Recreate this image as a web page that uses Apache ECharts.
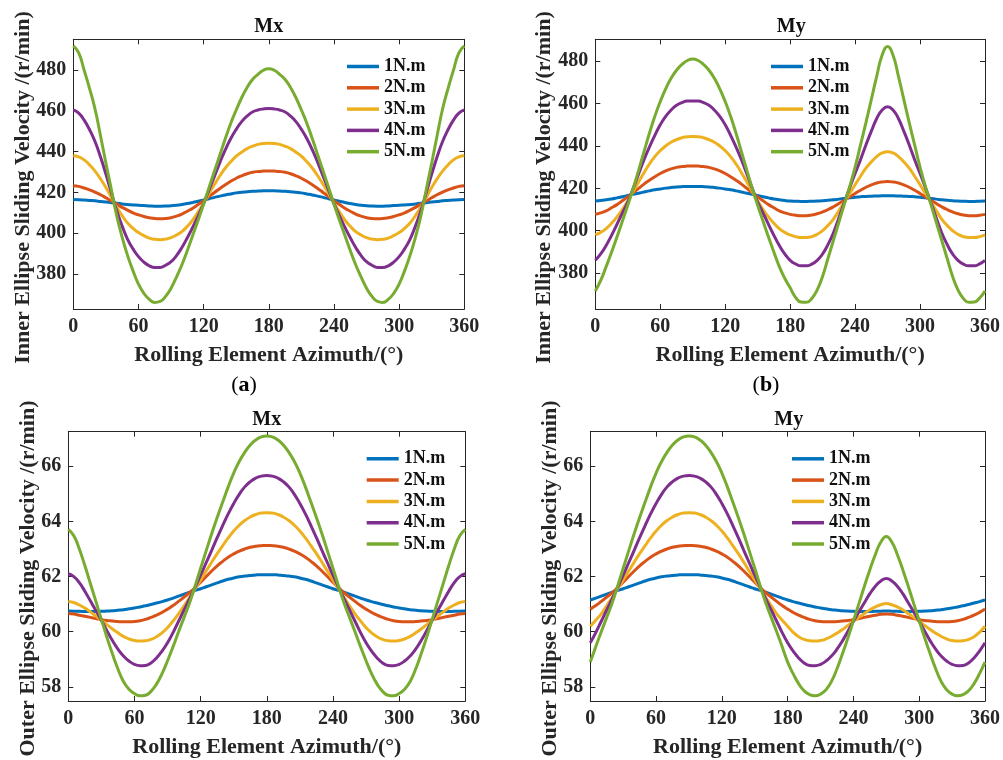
<!DOCTYPE html>
<html><head><meta charset="utf-8">
<script src="https://cdn.jsdelivr.net/npm/echarts@6/dist/echarts.min.js"></script>
<style>html,body{margin:0;padding:0;background:#fff}#c{width:1003px;height:760px}</style>
</head><body><div id="c"></div>
<script>
// ---------- data ----------
const angles = [0,5,10,15,20,25,30,35,40,45,50,55,60,65,70,75,80,85,90,95,100,105,110,115,120,125,130,135,140,145,150,155,160,165,170,175,180,185,190,195,200,205,210,215,220,225,230,235,240,245,250,255,260,265,270,275,280,285,290,295,300,305,310,315,320,325,330,335,340,345,350,355,360];
const seriesNames = ['1N.m','2N.m','3N.m','4N.m','5N.m'];
const xTicks = [0,60,120,180,240,300,360];
const innerTicks = [380,400,420,440,460,480];
const outerTicks = [58,60,62,64,66];
const panelTitles = ['Mx','My','Mx','My'];
const captions = ['a','b'];

// (a) inner ellipse, Mx
const innerMx1 = [416.5,416.45,416.3,416.1,415.9,415.6,415.3,415.0,414.7,414.4,414.1,413.9,413.7,413.55,413.4,413.3,413.3,413.35,413.5,413.75,414.1,414.55,415.1,415.7,416.3,416.95,417.6,418.2,418.8,419.3,419.8,420.1,420.4,420.6,420.7,420.8,420.8,
  420.8,420.7,420.6,420.4,420.1,419.8,419.3,418.8,418.2,417.6,416.95,416.3,415.7,415.1,414.55,414.1,413.75,413.5,413.35,413.3,413.3,413.4,413.55,413.7,413.9,414.1,414.4,414.7,415.0,415.3,415.6,415.9,416.1,416.3,416.45,416.5];
const innerMx2 = [423.3,423.0,422.2,421.3,420.2,418.9,417.4,415.8,414.3,412.7,411.3,410.0,409.0,408.2,407.6,407.2,407.1,407.2,407.6,408.4,409.4,410.8,412.3,414.1,416.0,418.0,420.0,422.0,423.8,425.5,427.0,428.2,429.2,429.9,430.3,430.5,430.6,
  430.5,430.3,429.9,429.2,428.2,427.0,425.5,423.8,422.0,420.0,418.0,416.0,414.1,412.3,410.8,409.4,408.4,407.6,407.2,407.1,407.2,407.6,408.2,409.0,410.0,411.3,412.7,414.3,415.8,417.4,418.9,420.2,421.3,422.2,423.0,423.3];
const innerMx3 = [438.0,437.5,436.0,433.5,430.5,426.7,422.5,417.6,412.8,408.6,405.0,402.4,400.3,398.8,397.6,397.0,396.8,397.1,397.8,399.1,400.8,403.4,406.5,410.5,414.7,419.5,424.0,428.2,432.0,435.1,437.8,439.8,441.5,442.7,443.6,444.1,444.2,
  444.1,443.6,442.7,441.5,439.8,437.8,435.1,432.0,428.2,424.0,419.5,414.7,410.5,406.5,403.4,400.8,399.1,397.8,397.1,396.8,397.0,397.6,398.8,400.3,402.4,405.0,408.6,412.8,417.6,422.5,426.7,430.5,433.5,436.0,437.5,438.0];
const innerMx4 = [460.5,459.0,455.5,450.8,445.0,437.5,429.0,420.0,411.0,403.5,397.0,392.3,388.5,385.8,384.0,383.2,383.2,384.3,386.0,389.0,393.0,397.8,403.0,408.5,414.5,421.3,428.0,434.8,441.0,446.5,451.0,454.8,457.5,459.5,460.5,461.0,461.2,
  461.0,460.5,459.5,457.5,454.8,451.0,446.5,441.0,434.8,428.0,421.3,414.5,408.5,403.0,397.8,393.0,389.0,386.0,384.3,383.2,383.2,384.0,385.8,388.5,392.3,397.0,403.5,411.0,420.0,429.0,437.5,445.0,450.8,455.5,459.0,460.5];
const innerMx5 = [492.0,488.5,480.0,471.0,461.0,448.0,434.5,421.5,408.5,398.0,389.0,381.5,375.0,370.5,367.5,366.0,366.5,369.0,373.0,378.5,384.5,391.5,399.0,406.5,414.3,422.5,430.5,438.5,446.5,454.0,460.5,466.5,471.5,475.5,478.0,480.0,480.7,
  480.0,478.0,475.5,471.5,466.5,460.5,454.0,446.5,438.5,430.5,422.5,414.3,406.5,399.0,391.5,384.5,378.5,373.0,369.0,366.5,366.0,367.5,370.5,375.0,381.5,389.0,398.0,408.5,421.5,434.5,448.0,461.0,471.0,480.0,488.5,492.0];

// (b) inner ellipse, My
const innerMy1 = [414.0,414.25,414.6,415.0,415.5,416.05,416.6,417.15,417.7,418.25,418.8,419.3,419.7,420.1,420.4,420.65,420.8,420.88,420.9,420.88,420.8,420.65,420.4,420.1,419.7,419.3,418.8,418.25,417.7,417.15,416.6,416.05,415.5,415.0,414.6,414.25,414.0,
  413.9,413.8,413.8,413.9,414.0,414.15,414.35,414.6,414.9,415.2,415.5,415.8,416.0,416.2,416.3,416.4,416.48,416.5,416.48,416.4,416.3,416.2,416.0,415.8,415.5,415.2,414.9,414.6,414.35,414.15,414.0,413.9,413.8,413.8,413.9,414.0];
const innerMy2 = [407.7,408.4,409.4,410.8,412.3,414.1,416.0,418.0,420.0,422.0,423.8,425.5,427.0,428.2,429.2,429.9,430.3,430.5,430.6,430.5,430.3,429.9,429.2,428.2,427.0,425.5,423.8,422.0,420.0,418.0,416.0,414.1,412.3,410.8,409.4,408.4,407.7,
  407.3,407.1,407.1,407.4,408.0,408.9,410.0,411.3,412.8,414.4,416.0,417.6,419.1,420.5,421.6,422.5,423.0,423.2,423.0,422.5,421.6,420.5,419.1,417.6,416.0,414.4,412.8,411.3,410.0,408.9,408.0,407.4,407.1,407.1,407.3,407.7];
const innerMy3 = [398.0,399.2,401.0,403.5,406.5,410.0,414.0,418.5,423.0,427.4,431.5,435.0,437.8,440.0,441.8,443.0,443.9,444.4,444.5,444.4,443.9,443.0,441.8,440.0,437.8,435.0,431.5,427.4,423.0,418.5,414.0,410.0,406.5,403.5,401.0,399.2,398.0,
  397.2,396.8,396.8,397.2,398.3,400.0,402.5,405.5,409.4,413.5,417.6,421.7,425.7,429.5,432.5,435.0,436.7,437.3,436.7,435.0,432.5,429.5,425.7,421.7,417.6,413.5,409.4,405.5,402.5,400.0,398.3,397.2,396.8,396.8,397.2,398.0];
const innerMy4 = [386.0,389.0,393.0,397.8,403.0,408.3,413.5,420.0,426.8,433.5,439.5,445.0,450.0,454.0,457.0,459.2,460.5,461.2,461.3,461.2,460.5,459.2,457.0,454.0,450.0,445.0,439.5,433.5,426.8,420.0,413.5,408.3,403.0,397.8,393.0,389.0,386.0,
  384.3,383.4,383.4,384.2,386.0,389.0,393.5,399.0,406.0,413.3,420.3,427.0,433.5,440.5,447.0,453.0,457.0,458.5,457.0,453.0,447.0,440.5,433.5,427.0,420.3,413.3,406.0,399.0,393.5,389.0,386.0,384.2,383.4,383.4,384.3,386.0];
const innerMy5 = [371.5,376.5,383.0,389.8,397.0,404.5,412.0,420.0,428.5,437.3,446.0,454.0,461.0,467.0,472.0,475.8,478.5,480.4,481.1,480.4,478.5,475.8,472.0,467.0,461.0,454.0,446.0,437.3,428.5,420.0,412.0,404.5,397.0,389.8,383.0,377.5,373.0,
  368.5,366.3,366.2,368.0,372.0,378.5,387.0,395.5,404.0,412.5,420.8,430.0,440.5,451.0,462.0,473.0,483.0,487.0,483.0,473.0,462.0,451.0,440.5,430.0,420.8,412.5,404.0,395.5,387.0,378.5,372.0,368.0,366.2,366.3,368.2,371.5];

// (c) outer ellipse, Mx
const outerMx1 = [60.75,60.745,60.74,60.735,60.73,60.735,60.74,60.75,60.76,60.78,60.80,60.83,60.86,60.9,60.94,60.99,61.04,61.09,61.15,61.22,61.29,61.36,61.43,61.5,61.56,61.63,61.70,61.77,61.84,61.9,61.95,61.99,62.02,62.04,62.06,62.07,62.07,
  62.07,62.06,62.04,62.02,61.99,61.95,61.9,61.84,61.77,61.70,61.63,61.56,61.5,61.43,61.36,61.29,61.22,61.15,61.09,61.04,60.99,60.94,60.9,60.86,60.83,60.80,60.78,60.76,60.75,60.74,60.735,60.73,60.735,60.74,60.745,60.75];
const outerMx2 = [60.66,60.64,60.60,60.56,60.52,60.48,60.44,60.41,60.39,60.37,60.36,60.36,60.37,60.4,60.45,60.52,60.60,60.7,60.82,60.95,61.10,61.26,61.42,61.6,61.80,62.0,62.20,62.39,62.55,62.7,62.82,62.92,63.00,63.06,63.10,63.12,63.13,
  63.12,63.10,63.06,63.00,62.92,62.82,62.7,62.55,62.39,62.20,62.0,61.80,61.6,61.42,61.26,61.10,60.95,60.82,60.7,60.60,60.52,60.45,60.4,60.37,60.36,60.36,60.37,60.39,60.41,60.44,60.48,60.52,60.56,60.60,60.64,60.66];
const outerMx3 = [61.10,61.06,60.97,60.86,60.72,60.57,60.42,60.26,60.10,59.96,59.83,59.74,59.68,59.66,59.67,59.72,59.82,59.96,60.15,60.39,60.65,60.94,61.25,61.56,61.88,62.2,62.52,62.83,63.12,63.4,63.65,63.86,64.03,64.16,64.25,64.3,64.31,
  64.3,64.25,64.16,64.03,63.86,63.65,63.4,63.12,62.83,62.52,62.2,61.88,61.56,61.25,60.94,60.65,60.39,60.15,59.96,59.82,59.72,59.67,59.66,59.68,59.74,59.83,59.96,60.10,60.26,60.42,60.57,60.72,60.86,60.97,61.06,61.10];
const outerMx4 = [62.10,62.0,61.78,61.47,61.12,60.77,60.42,60.04,59.68,59.37,59.12,58.94,58.82,58.77,58.78,58.87,59.05,59.3,59.6,59.97,60.38,60.79,61.2,61.62,62.05,62.5,62.95,63.41,63.85,64.27,64.65,64.98,65.25,65.44,65.57,65.64,65.66,
  65.64,65.57,65.44,65.25,64.98,64.65,64.27,63.85,63.41,62.95,62.5,62.05,61.62,61.2,60.79,60.38,59.97,59.6,59.3,59.05,58.87,58.78,58.77,58.82,58.94,59.12,59.37,59.68,60.04,60.42,60.77,61.12,61.47,61.78,62.0,62.10];
const outerMx5 = [63.71,63.48,63.00,62.4,61.75,61.1,60.45,59.8,59.2,58.65,58.2,57.92,57.76,57.68,57.7,57.84,58.1,58.48,58.95,59.46,60.0,60.52,61.05,61.66,62.3,62.93,63.55,64.14,64.7,65.25,65.75,66.17,66.5,66.77,66.95,67.06,67.09,
  67.06,66.95,66.77,66.5,66.17,65.75,65.25,64.7,64.14,63.55,62.93,62.3,61.66,61.05,60.52,60.0,59.46,58.95,58.48,58.1,57.84,57.7,57.68,57.76,57.92,58.2,58.65,59.2,59.8,60.45,61.1,61.75,62.4,63.00,63.48,63.71];

// (d) outer ellipse, My
const outerMy1 = [61.15,61.22,61.29,61.36,61.43,61.5,61.56,61.63,61.7,61.77,61.84,61.9,61.95,61.99,62.02,62.04,62.06,62.07,62.07,62.07,62.06,62.04,62.02,61.99,61.95,61.9,61.84,61.77,61.7,61.63,61.56,61.5,61.43,61.36,61.29,61.22,61.15,
  61.09,61.04,60.99,60.94,60.9,60.86,60.83,60.8,60.78,60.76,60.75,60.74,60.735,60.73,60.735,60.74,60.745,60.75,60.745,60.74,60.735,60.73,60.735,60.74,60.75,60.76,60.78,60.8,60.83,60.86,60.9,60.94,60.99,61.04,61.09,61.15];
const outerMy2 = [60.82,60.95,61.1,61.26,61.42,61.6,61.8,62.0,62.2,62.39,62.55,62.7,62.82,62.92,63.0,63.06,63.1,63.12,63.13,63.12,63.1,63.06,63.0,62.92,62.82,62.7,62.55,62.39,62.2,62.0,61.8,61.6,61.42,61.26,61.1,60.95,60.82,
  60.7,60.6,60.52,60.45,60.4,60.37,60.36,60.36,60.37,60.39,60.41,60.44,60.48,60.52,60.56,60.6,60.63,60.64,60.63,60.6,60.56,60.52,60.48,60.44,60.41,60.39,60.37,60.36,60.36,60.37,60.4,60.45,60.52,60.6,60.7,60.82];
const outerMy3 = [60.2,60.42,60.65,60.94,61.25,61.56,61.88,62.2,62.52,62.83,63.12,63.4,63.65,63.86,64.03,64.16,64.25,64.3,64.31,64.3,64.25,64.16,64.03,63.86,63.65,63.4,63.12,62.83,62.52,62.2,61.88,61.56,61.25,60.94,60.65,60.42,60.2,
  59.98,59.82,59.72,59.67,59.66,59.68,59.74,59.83,59.95,60.08,60.23,60.38,60.52,60.66,60.8,60.9,60.98,61.02,60.98,60.9,60.8,60.66,60.52,60.38,60.23,60.08,59.95,59.83,59.74,59.68,59.66,59.67,59.72,59.82,59.98,60.2];
const outerMy4 = [59.6,59.97,60.38,60.79,61.2,61.62,62.05,62.5,62.95,63.41,63.85,64.27,64.65,64.98,65.25,65.44,65.57,65.64,65.66,65.64,65.57,65.44,65.25,64.98,64.65,64.27,63.85,63.41,62.95,62.5,62.05,61.62,61.2,60.79,60.38,59.97,59.6,
  59.3,59.05,58.87,58.78,58.77,58.82,58.94,59.12,59.37,59.67,60.02,60.38,60.72,61.05,61.38,61.65,61.84,61.93,61.84,61.65,61.38,61.05,60.72,60.38,60.02,59.67,59.37,59.12,58.94,58.82,58.77,58.78,58.87,59.05,59.3,59.6];
const outerMy5 = [58.9,59.46,60.0,60.52,61.05,61.66,62.3,62.93,63.55,64.14,64.7,65.25,65.75,66.17,66.5,66.77,66.95,67.06,67.09,67.06,66.95,66.77,66.5,66.17,65.75,65.25,64.7,64.14,63.55,62.93,62.3,61.66,61.05,60.52,60.0,59.46,58.9,
  58.48,58.12,57.86,57.72,57.68,57.74,57.9,58.2,58.66,59.2,59.78,60.4,61.02,61.65,62.25,62.8,63.25,63.45,63.25,62.8,62.25,61.65,61.02,60.4,59.78,59.2,58.66,58.2,57.9,57.74,57.68,57.72,57.86,58.12,58.48,58.9];

// ---------- layout / style ----------
const FONT = '"Liberation Serif","Times New Roman",serif';
const INK = '#262626';
const COLORS = ['#0072BD','#D95319','#EDB120','#7E2F8E','#77AC30'];
const panels = [
  {data:[innerMx1,innerMx2,innerMx3,innerMx4,innerMx5], grid:{left:73.3,top:39.3,width:391,height:269.7}, y:[362.8,495.2], ticks:innerTicks, yname:'Inner Ellipse Sliding Velocity /(r/min)', yx:23, yy:187.5, legend:[342,52.5]},
  {data:[innerMy1,innerMy2,innerMy3,innerMy4,innerMy5], grid:{left:595.3,top:39.3,width:392,height:269.7}, y:[363,490.4], ticks:innerTicks, yname:'Inner Ellipse Sliding Velocity /(r/min)', yx:544, yy:187.5, legend:[766,52.5]},
  {data:[outerMx1,outerMx2,outerMx3,outerMx4,outerMx5], grid:{left:68.3,top:431.7,width:397,height:269.3}, y:[57.49,67.25], ticks:outerTicks, yname:'Outer Ellipse Sliding Velocity /(r/min)', yx:28, yy:578.5, legend:[361.7,444.8]},
  {data:[outerMy1,outerMy2,outerMy3,outerMy4,outerMy5], grid:{left:590.3,top:431.7,width:397,height:269.3}, y:[57.49,67.25], ticks:outerTicks, yname:'Outer Ellipse Sliding Velocity /(r/min)', yx:550, yy:578.5, legend:[787,444.8]}
];

const grid=[], xAxis=[], yAxis=[], series=[], legend=[], graphic=[];
panels.forEach((p,g)=>{
  grid.push(Object.assign({containLabel:false}, p.grid));
  const tickStyle = {inside:true, length:5, lineStyle:{color:INK, width:1}};
  const lineStyle = {show:true, onZero:false, lineStyle:{color:INK, width:1}};
  xAxis.push({type:'value', gridIndex:g, position:'bottom', min:0, max:360, interval:60,
    axisLine:lineStyle, axisTick:Object.assign({customValues:xTicks},tickStyle), splitLine:{show:false},
    axisLabel:{customValues:xTicks, fontFamily:FONT, fontWeight:'bold', fontSize:20, color:INK, margin:8},
    name:'Rolling Element Azimuth/(°)', nameLocation:'middle', nameGap:35,
    nameTextStyle:{fontFamily:FONT, fontWeight:'bold', fontSize:22, color:INK}});
  xAxis.push({type:'value', gridIndex:g, position:'top', min:0, max:360, interval:60,
    axisLine:lineStyle, axisTick:Object.assign({customValues:xTicks},tickStyle), splitLine:{show:false}, axisLabel:{show:false}});
  yAxis.push({type:'value', gridIndex:g, position:'left', min:p.y[0], max:p.y[1],
    axisLine:lineStyle, axisTick:Object.assign({customValues:p.ticks},tickStyle), splitLine:{show:false},
    axisLabel:{customValues:p.ticks, fontFamily:FONT, fontWeight:'bold', fontSize:20, color:INK, margin:7}});
  yAxis.push({type:'value', gridIndex:g, position:'right', min:p.y[0], max:p.y[1],
    axisLine:lineStyle, axisTick:Object.assign({customValues:p.ticks},tickStyle), splitLine:{show:false}, axisLabel:{show:false}});
  p.data.forEach((vals,i)=>{
    series.push({type:'line', name:seriesNames[i], xAxisIndex:2*g, yAxisIndex:2*g,
      data:angles.map((a,k)=>[a, vals[k]]), smooth:true, symbol:'none', showSymbol:false,
      lineStyle:{color:COLORS[i], width:3}, itemStyle:{color:COLORS[i]}, animation:false});
  });
  legend.push({data:seriesNames.map(n=>({name:n, icon:'rect'})), orient:'vertical', left:p.legend[0], top:p.legend[1],
    itemWidth:32, itemHeight:3.5, itemGap:3.3, selectedMode:false,
    textStyle:{fontFamily:FONT, fontWeight:'bold', fontSize:18, color:'#111', lineHeight:18}});
  graphic.push({type:'text', x:p.yx, y:p.yy, rotation:Math.PI/2,
    style:{text:p.yname, x:0, y:0, textAlign:'center', textVerticalAlign:'middle',
      font:'bold 22px '+FONT, fill:INK}});
  graphic.push({type:'text', x:p.grid.left + p.grid.width/2, y:p.grid.top - 12,
    style:{text:panelTitles[g], x:0, y:0, textAlign:'center', textVerticalAlign:'middle',
      font:'bold 20px '+FONT, fill:'#111'}});
});
captions.forEach((c,i)=>{
  graphic.push({type:'text', x:[244,766][i], y:385,
    style:{text:'{p|(}{b|'+c+'}{p|)}', x:0, y:0, textAlign:'center', textVerticalAlign:'middle',
      rich:{p:{fontFamily:FONT, fontSize:22, color:'#111'}, b:{fontFamily:FONT, fontSize:22, fontWeight:'bold', color:'#111'}}}});
});

const chart = echarts.init(document.getElementById('c'), null, {renderer:'canvas'});
chart.setOption({animation:false, backgroundColor:'#fff', grid, xAxis, yAxis, series, legend, graphic});
</script>
</body></html>
